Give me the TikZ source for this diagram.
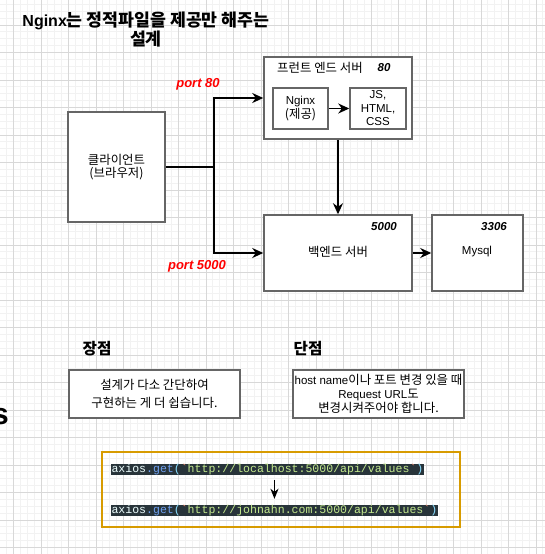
\documentclass[tikz,border=0pt]{standalone}
\usepackage{fontspec}
\setmainfont{Liberation Sans}
\setmonofont{Liberation Mono}
\newfontfamily\kr{Noto Sans CJK KR}[Scale=1.08]
\usepackage{xcolor}
\usetikzlibrary{arrows.meta}
\definecolor{gridmajor}{RGB}{216, 216, 216}
\definecolor{gridminor}{RGB}{242, 242, 242}
\definecolor{boxgray}{RGB}{102, 102, 102}
\definecolor{portred}{RGB}{255, 0, 0}
\definecolor{codeorange}{RGB}{215, 155, 0}
\definecolor{codebg}{RGB}{40, 52, 58}
\definecolor{codewhite}{RGB}{238, 255, 255}
\definecolor{codeblue}{RGB}{110, 160, 240}
\definecolor{codeparen}{RGB}{137, 221, 255}
\definecolor{codetick}{RGB}{247, 140, 108}
\definecolor{codegreen}{RGB}{195, 232, 141}
\newcommand{\kor}[1]{{\kr #1}}
\newcommand{\axiosget}[1]{\textcolor{codewhite}{axios}\textcolor{codeblue}{.get}\textcolor{codeparen}{(}\textcolor{codetick}{\textasciigrave}\textcolor{codegreen}{#1}\textcolor{codetick}{\textasciigrave}\textcolor{codeparen}{)}}
\tikzset{
  box/.style={draw=boxgray, line width=1.5pt, fill=white, inner sep=0pt, align=center, font=\fontsize{11.5}{13.5}\selectfont},
  conn/.style={draw=black, line width=1.6pt, -{Stealth[length=11pt, width=10pt, inset=3.5pt]}},
  lbl/.style={inner sep=0pt, align=center, font=\fontsize{11.5}{13.5}\selectfont},
  portlbl/.style={inner sep=0pt, text=portred, font=\fontsize{13}{15}\selectfont\bfseries\itshape},
  numlbl/.style={inner sep=0pt, font=\fontsize{11.5}{13.5}\selectfont\bfseries\itshape},
  headlbl/.style={inner sep=0pt, font=\fontsize{14.5}{17}\selectfont\bfseries},
  codeline/.style={fill=codebg, inner xsep=0.3pt, inner ysep=0pt, text height=8.5pt, text depth=2.5pt, font=\fontsize{11.55}{13}\selectfont\ttfamily}
}

\begin{document}
\begin{tikzpicture}[x=1pt, y=-1pt]
\useasboundingbox (0,0) rectangle (545,554);
\fill[white] (0,0) rectangle (545,554);

% background grid
\foreach \i in {-1,...,78} {
  \draw[gridminor, line width=0.8pt] ({13.5+6.875*\i},0) -- ({13.5+6.875*\i},554);
}
\foreach \i in {-1,...,80} {
  \draw[gridminor, line width=0.8pt] (0,{4.375+6.875*\i}) -- (545,{4.375+6.875*\i});
}
\foreach \i in {-1,...,19} {
  \draw[gridmajor, line width=0.9pt] ({13.5+27.5*\i},0) -- ({13.5+27.5*\i},554);
  \draw[gridmajor, line width=0.9pt] (0,{25+27.5*\i}) -- (545,{25+27.5*\i});
}

% title
\node[inner sep=0pt, align=center, font=\fontsize{16}{19}\selectfont\bfseries] (title) at (146,30)
  {Nginx\kor{는 정적파일을 제공만 해주는}\\\kor{설계}};

% boxes
\node[box, minimum width=97pt, minimum height=110pt] (client) at (116.5,167)
  {\kor{클라이언트}\\\kor{(브라우저)}};
\node[box, minimum width=148pt, minimum height=82pt] (front) at (338,98) {};
\node[lbl] (fronttitle) at (320,68) {\kor{프런트 엔드 서버}};
\node[numlbl] (frontport) at (384,68) {80};
\node[box, minimum width=55pt, minimum height=41pt] (nginx) at (300.5,108.5)
  {Nginx\\\kor{(제공)}};
\node[box, minimum width=56pt, minimum height=41pt] (static) at (378,108.5)
  {JS,\\HTML,\\CSS};
\node[box, minimum width=148pt, minimum height=76pt] (back) at (338,253) {};
\node[lbl] (backtitle) at (338,252) {\kor{백엔드 서버}};
\node[numlbl] (backport) at (384,227) {5000};
\node[box, minimum width=91pt, minimum height=76pt] (mysql) at (477.5,253) {};
\node[lbl] (mysqltitle) at (477,252) {Mysql};
\node[numlbl] (mysqlport) at (494,227) {3306};

% connectors
\coordinate (split) at (214,167);
\draw[line width=1.6pt] (client.east) -- (split);
\draw[conn] (split) |- (front.west);
\draw[conn] (split) |- (back.west);
\draw[conn] (nginx.east) -- (static.west);
\draw[conn] (front.south) -- (back.north);
\draw[conn] (back.east) -- (mysql.west);
\node[portlbl] (port80) at (198,84) {port 80};
\node[portlbl] (port5000) at (197,266) {port 5000};

% pros / cons
\node[anchor=base east, inner sep=0pt, font=\fontsize{30}{32}\selectfont\bfseries] (stub) at (9,424) {s};
\node[headlbl] (prohead) at (97,349) {\kor{장점}};
\node[headlbl] (conhead) at (308,349) {\kor{단점}};
\node[box, minimum width=171pt, minimum height=48pt, font=\fontsize{11.5}{17.4}\selectfont] (pros) at (154.5,394)
  {\kor{설계가 다소 간단하여}\\\kor{구현하는 게 더 쉽습니다.}};
\node[box, minimum width=171pt, minimum height=48pt, font=\fontsize{11.5}{14}\selectfont] (cons) at (378.5,394)
  {host name\kor{이나 포트 변경 있을 때}\\Request URL\kor{도}\\\kor{변경시켜주어야 합니다.}};

% axios calls
\node[draw=codeorange, line width=2pt, minimum width=358pt, minimum height=75pt] (codebox) at (281,489.5) {};
\node[codeline, anchor=west] (local) at (111,469.5) {\axiosget{http://localhost:5000/api/values}};
\node[codeline, anchor=west] (remote) at (111,510.5) {\axiosget{http://johnahn.com:5000/api/values}};
\draw[line width=1.3pt, -{Stealth[length=10pt, width=8pt, inset=3pt]}, shorten <=5pt, shorten >=6pt]
  ([xshift=7pt]local.south) -- ([xshift=7pt]local.south |- remote.north);
\end{tikzpicture}
\end{document}
